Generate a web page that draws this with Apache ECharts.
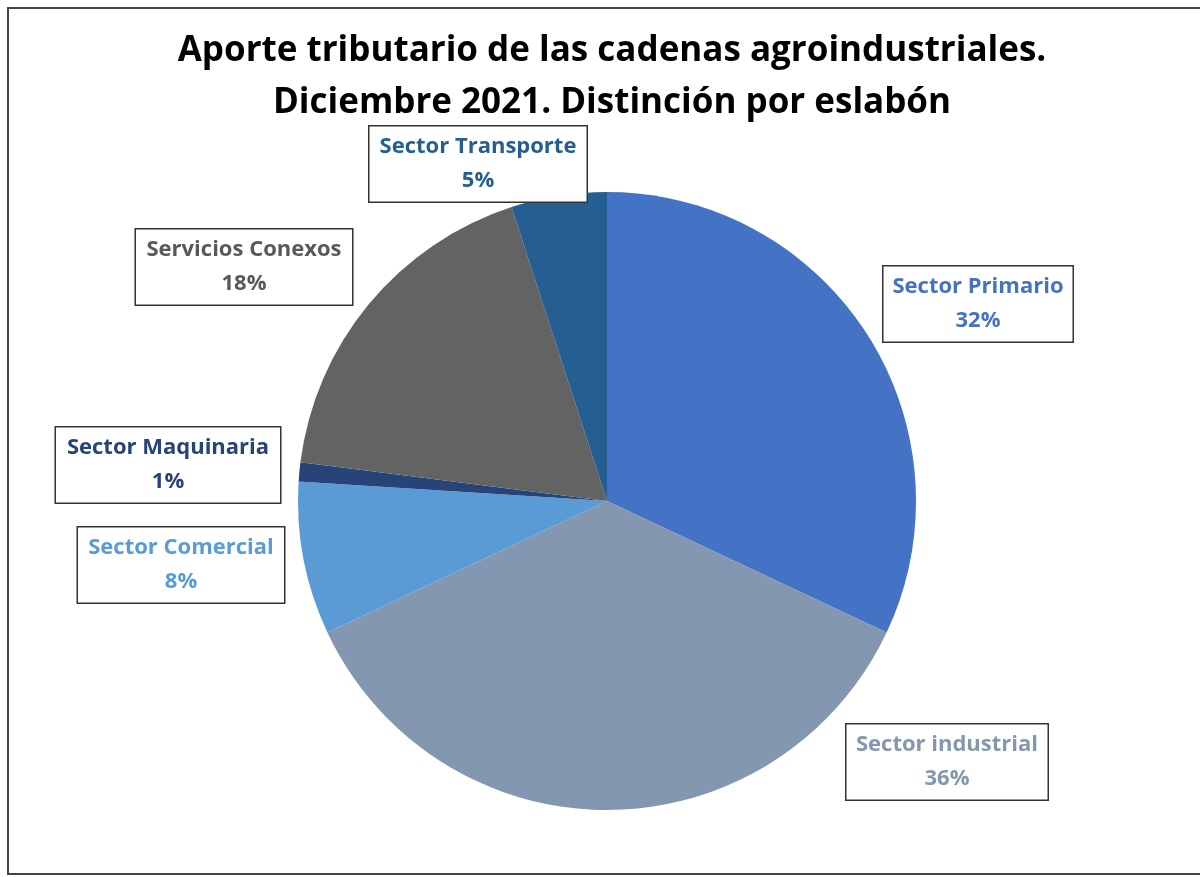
<!DOCTYPE html>
<html>
<head>
<meta charset="utf-8">
<script src="https://cdn.jsdelivr.net/npm/echarts@6/dist/echarts.min.js"></script>
<style>
html,body{margin:0;padding:0;background:#fff;}
#chart{width:1200px;height:877px;}
</style>
</head>
<body>
<div id="chart"></div>
<script>
const categories = ["Sector Primario", "Sector industrial", "Sector Comercial", "Sector Maquinaria", "Servicios Conexos", "Sector Transporte"];
const values = [32, 36, 8, 1, 18, 5];
const colors = ["#4472C4", "#8497B0", "#5B9BD5", "#264478", "#636363", "#255E91"];
const labelColors = ["#4472C4", "#8497B0", "#5B9BD5", "#264478", "#595959", "#255E91"];
const labelPos = [[978, 304], [947, 762], [181, 565], [168, 465], [244, 267], [478, 164]];
const labelWidths = [173, 185, 190, 208, 200, 201];

const FONT = "'Open Sans', sans-serif";
const chart = echarts.init(document.getElementById('chart'), null, {renderer: 'canvas'});

const data = categories.map((c, i) => ({
  name: c,
  value: values[i],
  itemStyle: {color: colors[i]},
  label: {color: labelColors[i], width: labelWidths[i]}
}));

chart.setOption({
  backgroundColor: '#ffffff',
  title: {
    text: 'Aporte tributario de las cadenas agroindustriales.\nDiciembre 2021. Distinción por eslabón',
    left: 607, top: 20, textAlign: 'center',
    textStyle: {fontFamily: FONT, fontWeight: 'bold', fontSize: 35, color: '#000', lineHeight: 52}
  },
  graphic: [{
    type: 'rect', silent: true,
    shape: {x: 8, y: 8, width: 1200, height: 866},
    style: {fill: 'none', stroke: '#444', lineWidth: 2}
  }],
  series: [{
    type: 'pie',
    center: [607, 501],
    radius: 309,
    startAngle: 90,
    clockwise: true,
    animation: false,
    data: data,
    itemStyle: {borderWidth: 0},
    labelLine: {show: false},
    label: {
      show: true,
      formatter: '{b}\n{d}%',
      fontFamily: FONT,
      fontWeight: 'bold',
      fontSize: 22,
      lineHeight: 34,
      align: 'center',
      backgroundColor: '#fff',
      borderColor: '#333',
      borderWidth: 1.5,
      padding: [6, 8, 1, 8]
    },
    labelLayout: function (p) {
      const i = p.dataIndex;
      return {x: labelPos[i][0], y: labelPos[i][1], align: 'center', verticalAlign: 'middle'};
    }
  }]
});
</script>
</body>
</html>
